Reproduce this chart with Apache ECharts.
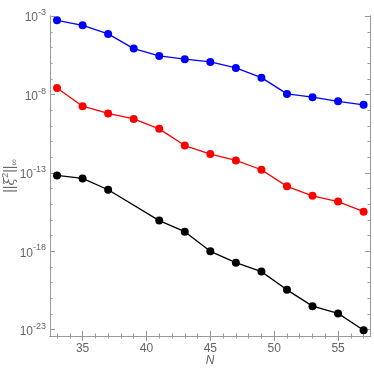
<!DOCTYPE html>
<html>
<head>
<meta charset="utf-8">
<script src="https://cdn.jsdelivr.net/npm/echarts@6/dist/echarts.min.js"></script>
<style>
  html, body { margin: 0; padding: 0; background: #fff; }
  #chart { width: 374px; height: 368px; }
</style>
</head>
<body>
<div id="chart"></div>
<script>
// N values
var nBlue = [33, 35, 37, 39, 41, 43, 45, 47, 49, 51, 53, 55, 57];
var nRed = [33, 35, 37, 39, 41, 43, 45, 47, 49, 51, 53, 55, 57];
var nBlack = [33, 35, 37, 41, 43, 45, 47, 49, 51, 53, 55, 57];

// error norms
var blueVals = [5.4e-4, 2.6e-4, 7.4e-5, 8.5e-6, 2.9e-6, 1.8e-6, 1.2e-6, 5.0e-7, 1.2e-7, 1.1e-8, 6.8e-9, 3.7e-9, 2.2e-9];
var redVals = [2.6e-8, 1.8e-9, 6.2e-10, 2.8e-10, 6.5e-11, 5.6e-12, 1.6e-12, 6.3e-13, 1.6e-13, 1.4e-14, 3.5e-15, 1.5e-15, 3.4e-16];
var blackVals = [6.9e-14, 4.5e-14, 8.5e-15, 9.1e-17, 1.8e-17, 1.0e-18, 1.9e-19, 5.1e-20, 3.5e-21, 3.2e-22, 1.1e-22, 9.3e-24];

// ticks
var xMajor = [35, 40, 45, 50, 55];
var xMinor = [33, 34, 36, 37, 38, 39, 41, 42, 43, 44, 46, 47, 48, 49, 51, 52, 53, 54, 56, 57];
var yMajorExp = [-23, -18, -13, -8, -3];
var yMinorExp = [-22, -21, -20, -19, -17, -16, -15, -14, -12, -11, -10, -9, -7, -6, -5, -4];

function pairs(xs, ys) {
    return xs.map(function (x, i) { return [x, ys[i]]; });
}
function pows(list) {
    return list.map(function (e) { return Math.pow(10, e); });
}

var frame = '#999999';
var labelColor = '#666666';
var font = 'Liberation Sans';

function xAx(pos, values, len, labels) {
    return {
        type: 'value', position: pos, min: 32.45, max: 57.5,
        axisLine: { show: true, lineStyle: { color: frame, width: 1 } },
        axisTick: { show: true, inside: true, length: len, customValues: values, lineStyle: { color: frame } },
        axisLabel: labels ? { show: true, customValues: values, color: labelColor, fontSize: 12, fontFamily: font, margin: 7 } : { show: false },
        splitLine: { show: false }
    };
}
function yAx(pos, values, len, labels) {
    return {
        type: 'log', logBase: 10, position: pos,
        min: Math.pow(10, -23.4), max: Math.pow(10, -2.99),
        axisLine: { show: true, lineStyle: { color: frame, width: 1 } },
        axisTick: { show: true, inside: true, length: len, customValues: values, lineStyle: { color: frame } },
        axisLabel: labels ? {
            show: true, customValues: values, margin: 4,
            formatter: function (v) {
                return '{b|10}{s|' + Math.round(Math.log10(v)) + '}';
            },
            rich: {
                b: { fontSize: 12, color: labelColor, fontFamily: font, verticalAlign: 'bottom', lineHeight: 16 },
                s: { fontSize: 9, color: labelColor, fontFamily: font, verticalAlign: 'top', lineHeight: 16 }
            }
        } : { show: false },
        splitLine: { show: false }
    };
}

var xName = xAx('bottom', xMajor, 5, true);
xName.name = 'N';
xName.nameLocation = 'middle';
xName.nameGap = 19;
xName.nameMoveOverlap = false;
xName.nameTextStyle = { color: labelColor, fontSize: 12, fontStyle: 'italic', fontFamily: font };

var yName = yAx('left', pows(yMajorExp), 5, true);
yName.name = '{n|||}{x|ξ}{s|2}{n|||}{u|∞}';
yName.nameLocation = 'middle';
yName.nameGap = 31;
yName.nameMoveOverlap = false;
yName.nameTextStyle = {
    rich: {
        n: { fontSize: 14, color: labelColor, fontFamily: font, verticalAlign: 'middle', lineHeight: 18 },
        x: { fontSize: 14, color: labelColor, fontFamily: 'DejaVu Serif', fontStyle: 'italic', verticalAlign: 'middle', lineHeight: 18 },
        s: { fontSize: 9, color: labelColor, fontFamily: font, verticalAlign: 'top', lineHeight: 18 },
        u: { fontSize: 9, color: labelColor, fontFamily: font, verticalAlign: 'bottom', lineHeight: 18 }
    }
};

function line(name, color, data) {
    return {
        name: name, type: 'line', data: data,
        symbol: 'circle', symbolSize: 8,
        lineStyle: { color: color, width: 1.3 },
        itemStyle: { color: color },
        animation: false
    };
}

var chart = echarts.init(document.getElementById('chart'));
chart.setOption({
    animation: false,
    grid: { left: 50, right: 4, top: 16, bottom: 32, containLabel: false, outerBoundsMode: 'none' },
    xAxis: [
        xName,
        xAx('bottom', xMinor, 2.5, false),
        xAx('top', xMajor, 5, false),
        xAx('top', xMinor, 2.5, false)
    ],
    yAxis: [
        yName,
        yAx('left', pows(yMinorExp), 2.5, false),
        yAx('right', pows(yMajorExp), 5, false),
        yAx('right', pows(yMinorExp), 2.5, false)
    ],
    series: [
        line('blue', '#0000ff', pairs(nBlue, blueVals)),
        line('red', '#ff0000', pairs(nRed, redVals)),
        line('black', '#000000', pairs(nBlack, blackVals))
    ]
});
</script>
</body>
</html>
